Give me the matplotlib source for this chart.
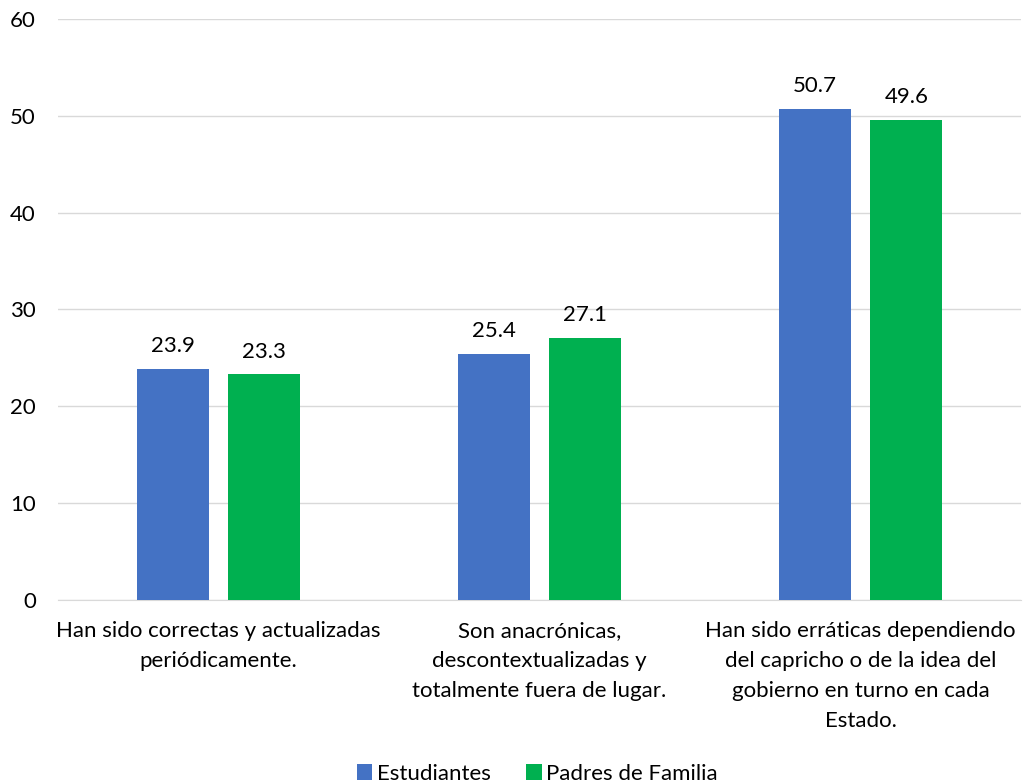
import matplotlib.pyplot as plt
import numpy as np

categories = [
    "Han sido correctas y actualizadas\nperiódicamente.",
    "Son anacrónicas,\ndescontextualizadas y\ntotalmente fuera de lugar.",
    "Han sido erráticas dependiendo\ndel capricho o de la idea del\ngobierno en turno en cada\nEstado.",
]
estudiantes = [23.9, 25.4, 50.7]
padres = [23.3, 27.1, 49.6]
series_names = ["Estudiantes", "Padres de Familia"]
colors = ["#4472C4", "#00B050"]

plt.rcParams["font.family"] = ["Lato", "DejaVu Sans"]
FS = 16

fig = plt.figure(figsize=[10.23, 7.84], dpi=100)
ax = fig.add_axes([0.0567, 0.2347, 0.9413, 0.7411])

x = np.arange(len(categories))
width = 0.224
offset = 0.143
for vals, name, color, dx in zip([estudiantes, padres], series_names, colors, [-offset, offset]):
    bars = ax.bar(x + dx, vals, width, color=color, label=name, zorder=3)
    for b, v in zip(bars, vals):
        ax.text(b.get_x() + b.get_width() / 2, v + 1.3, f"{v:.1f}",
                ha="center", va="bottom", fontsize=FS, color="#000000")

ax.set_xlim(-0.5, 2.5)
ax.set_ylim(0, 60)
ax.set_yticks(range(0, 61, 10))
ax.grid(axis="y", color="#D9D9D9", linewidth=1, zorder=0)
ax.set_xticks(x)
ax.set_xticklabels(categories, fontsize=FS, linespacing=1.62)
ax.tick_params(axis="both", length=0, labelsize=FS, colors="#000000")
ax.tick_params(axis="x", pad=15)
ax.tick_params(axis="y", pad=16)
for s in ["top", "right", "left"]:
    ax.spines[s].set_visible(False)
ax.spines["bottom"].set_color("#D9D9D9")

fig.legend(loc="lower center", bbox_to_anchor=(0.525, -0.025), ncol=2, frameon=False,
           fontsize=FS, handlelength=0.7, handleheight=0.7, handletextpad=0.2,
           columnspacing=1.6)

fig.savefig("out.png", dpi=100)
